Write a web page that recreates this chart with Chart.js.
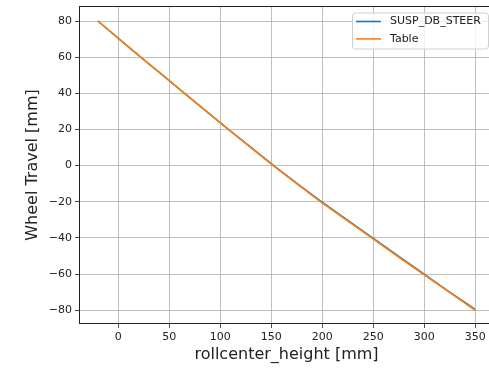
<!DOCTYPE html>
<html>
<head>
<meta charset="utf-8">
<script src="https://cdn.jsdelivr.net/npm/chart.js@4.4.1/dist/chart.umd.min.js"></script>
<style>
  html, body { margin: 0; padding: 0; background: #fff; overflow: hidden; }
  #wrap { width: 495px; height: 368px; }
</style>
</head>
<body>
<div id="wrap"><canvas id="chart" width="495" height="368"></canvas></div>
<script>
// данные
const wheelTravel = [80, 70, 60, 50, 40, 30, 20, 10, 0, -10, -20, -30, -40, -50, -60, -70, -80];
const tableRc = [-20, 1, 22, 43.5, 65, 86.5, 108, 130, 152, 175, 198.5, 223.5, 248.5, 273.5, 299, 324.5, 350];
const steerTravel = [80, 70, 60, 50, 40, 30, 20, 10, 0, -10, -20, -30, -40, -50, -60, -70, -79.3];
const steerRc = [-20, 1, 22, 43.5, 65, 86.5, 108, 130.5, 152.5, 175.5, 199.5, 224.5, 249.5, 274.5, 300, 325, 349.5];
const xTicks = [0, 50, 100, 150, 200, 250, 300, 350];
const yTicks = [-80, -60, -40, -20, 0, 20, 40, 60, 80];

const font = 'DejaVu Sans';
const toPoints = (xs, ys) => xs.map((x, i) => ({ x: x, y: ys[i] }));
const fmt = v => String(v).replace('-', '\u2212');

// рамка вокруг области графика + легенда как в matplotlib
const framePlugin = {
  id: 'frame',
  afterDraw(chart) {
    const { ctx, chartArea: a } = chart;
    ctx.save();
    ctx.strokeStyle = '#222';
    ctx.lineWidth = 1;
    ctx.strokeRect(a.left + 0.5, a.top + 0.5, a.right - a.left - 1, a.bottom - a.top - 1);

    // легенда
    const w = 136, h = 36;
    const lx = a.right - 6 - w, ly = a.top + 6.5;
    ctx.fillStyle = 'rgba(255,255,255,0.8)';
    ctx.strokeStyle = '#d0d0d0';
    ctx.beginPath();
    ctx.roundRect(lx + 0.5, ly + 0.5, w, h, 3);
    ctx.fill();
    ctx.stroke();
    ctx.font = '11px "' + font + '"';
    ctx.textBaseline = 'middle';
    chart.data.datasets.forEach((ds, i) => {
      const yy = ly + 9 + i * 17.4;
      ctx.strokeStyle = ds.borderColor;
      ctx.lineWidth = 1.6;
      ctx.beginPath();
      ctx.moveTo(lx + 4, yy);
      ctx.lineTo(lx + 29, yy);
      ctx.stroke();
      ctx.fillStyle = '#222';
      ctx.fillText(ds.label, lx + 38, yy);
    });
    ctx.restore();
  }
};

new Chart(document.getElementById('chart').getContext('2d'), {
  type: 'line',
  data: {
    datasets: [{
      label: 'SUSP_DB_STEER',
      data: toPoints(steerRc, steerTravel),
      borderColor: '#1f77b4',
      borderWidth: 1.6,
      pointRadius: 0,
      tension: 0,
      order: 2
    }, {
      label: 'Table',
      data: toPoints(tableRc, wheelTravel),
      borderColor: '#ff7f0e',
      borderWidth: 1.6,
      pointRadius: 0,
      tension: 0,
      order: 1
    }]
  },
  options: {
    responsive: false,
    animation: false,
    layout: { padding: { top: 6, right: 1, left: 0, bottom: 0 } },
    plugins: {
      legend: { display: false },
      tooltip: { enabled: false }
    },
    scales: {
      x: {
        type: 'linear',
        min: -38.5,
        max: 368.5,
        afterFit: s => { s.height = 44; s.paddingLeft = 0; s.paddingRight = 0; },
        afterBuildTicks: s => { s.ticks = xTicks.map(v => ({ value: v })); },
        grid: { color: '#b0b0b0', lineWidth: 0.8, tickColor: '#222', tickLength: 4, drawTicks: true },
        border: { display: false },
        ticks: { color: '#222', font: { family: font, size: 11 }, padding: 3, maxRotation: 0, callback: fmt },
        title: { display: true, text: 'rollcenter_height [mm]', color: '#222', font: { family: font, size: 16 }, padding: { top: 0, bottom: 4 } }
      },
      y: {
        type: 'linear',
        min: -87.6,
        max: 88.3,
        afterFit: s => { s.width = 79; s.paddingTop = 0; s.paddingBottom = 0; },
        afterBuildTicks: s => { s.ticks = yTicks.map(v => ({ value: v })); },
        grid: { color: '#b0b0b0', lineWidth: 0.8, tickColor: '#222', tickLength: 4, drawTicks: true },
        border: { display: false },
        ticks: { color: '#222', font: { family: font, size: 11 }, padding: 3, callback: fmt },
        title: { display: true, text: 'Wheel Travel [mm]', color: '#222', font: { family: font, size: 16 }, padding: { top: 23, bottom: 0 } }
      }
    }
  },
  plugins: [framePlugin]
});
</script>
</body>
</html>
